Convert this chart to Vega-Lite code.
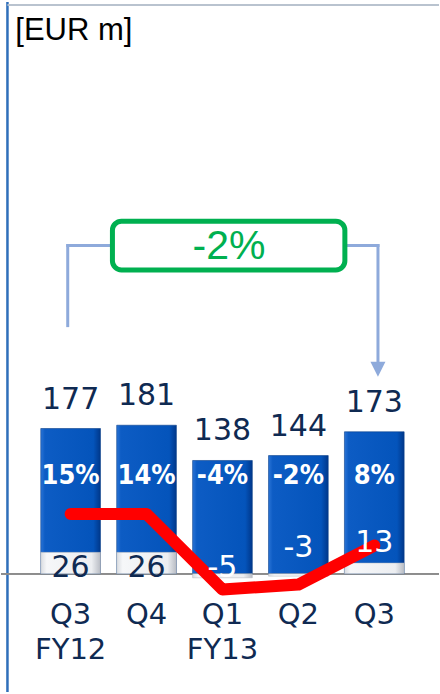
{
  "$schema": "https://vega.github.io/schema/vega-lite/v6.json",
  "width": 440,
  "height": 694,
  "autosize": {"type": "fit", "contains": "padding"},
  "padding": 0,
  "background": "#ffffff",
  "config": {"view": {"stroke": null}},
  "datasets": {
    "q": [
      {"period": "Q3 FY12", "revenue": 177, "ebit": 26, "margin": "15%"},
      {"period": "Q4", "revenue": 181, "ebit": 26, "margin": "14%"},
      {"period": "Q1 FY13", "revenue": 138, "ebit": -5, "margin": "-4%"},
      {"period": "Q2", "revenue": 144, "ebit": -3, "margin": "-2%"},
      {"period": "Q3", "revenue": 173, "ebit": 13, "margin": "8%"}
    ]
  },
  "resolve": {"scale": {"x": "independent", "y": "independent"}},
  "layer": [
    {
      "data": {"values": [{}]},
      "layer": [
        {
          "mark": {"type": "rule", "color": "#2f6fba", "strokeWidth": 2.5},
          "encoding": {
            "x": {"datum": -0.833, "type": "quantitative", "scale": {"domain": [-0.918, 4.852], "nice": false, "zero": false}, "axis": null},
            "y": {"datum": 697, "type": "quantitative", "scale": {"domain": [-144.24, 696.97], "nice": false, "zero": false}, "axis": null},
            "y2": {"datum": -144.24}
          }
        },
        {
          "mark": {"type": "rule", "color": "#b9c3cf", "strokeWidth": 2},
          "encoding": {"x": {"datum": -0.833}, "x2": {"datum": 4.852}, "y": {"datum": 693.3}}
        },
        {
          "mark": {"type": "rule", "color": "#8eaadb", "strokeWidth": 3},
          "encoding": {"x": {"datum": -0.039}, "y": {"datum": 300.6}, "y2": {"datum": 401.8}}
        },
        {
          "mark": {"type": "rule", "color": "#8eaadb", "strokeWidth": 3},
          "encoding": {"x": {"datum": -0.058}, "x2": {"datum": 0.56}, "y": {"datum": 400}}
        },
        {
          "mark": {"type": "rule", "color": "#8eaadb", "strokeWidth": 3},
          "encoding": {"x": {"datum": 3.6}, "x2": {"datum": 4.068}, "y": {"datum": 400}}
        },
        {
          "mark": {"type": "rule", "color": "#8eaadb", "strokeWidth": 3},
          "encoding": {"x": {"datum": 4.048}, "y": {"datum": 401.8}, "y2": {"datum": 254}}
        },
        {
          "mark": {"type": "point", "shape": "M-1,-1L1,-1L0,1Z", "filled": true, "color": "#8eaadb", "opacity": 1, "size": 225},
          "encoding": {"x": {"datum": 4.048}, "y": {"datum": 249.1}}
        },
        {
          "mark": {"type": "rect", "fill": "#ffffff", "stroke": "#00b050", "strokeWidth": 5, "cornerRadius": 9},
          "encoding": {"x": {"datum": 0.55}, "x2": {"datum": 3.612}, "y": {"datum": 429.7}, "y2": {"datum": 370.3}}
        },
        {
          "mark": {"type": "text", "text": "-2%", "font": "Liberation Sans", "fontSize": 41, "color": "#00b050", "align": "center", "baseline": "middle"},
          "encoding": {"x": {"datum": 2.085}, "y": {"datum": 398.8}}
        },
        {
          "mark": {"type": "text", "text": "[EUR m]", "font": "Liberation Sans", "fontSize": 31, "color": "#000000", "align": "left", "baseline": "middle"},
          "encoding": {"x": {"datum": -0.73}, "y": {"datum": 662}}
        }
      ]
    },
    {
      "data": {"name": "q"},
      "layer": [
        {
          "mark": {"type": "rule", "color": "#8c8c8c", "strokeWidth": 1.5},
          "encoding": {
            "y": {"datum": 0, "type": "quantitative", "scale": {"domain": [-144.24, 696.97], "nice": false, "zero": false}, "axis": null}
          }
        },
        {
          "mark": {
            "type": "bar",
            "stroke": "#0a3f8a",
            "strokeWidth": 0.6,
            "color": {"gradient": "linear", "x1": 0, "x2": 1, "y1": 0, "y2": 0, "stops": [
              {"offset": 0, "color": "#2a74d6"},
              {"offset": 0.07, "color": "#0d5cc4"},
              {"offset": 0.88, "color": "#0454bb"},
              {"offset": 1, "color": "#00378a"}
            ]}
          },
          "encoding": {
            "x": {"field": "period", "type": "nominal", "scale": {"type": "band", "domain": ["Q3 FY12", "Q4", "Q1 FY13", "Q2", "Q3"], "paddingInner": 0.2136, "paddingOuter": 0.4915, "align": 0.533}, "axis": null},
            "y": {"field": "revenue", "type": "quantitative"},
            "y2": {"datum": 0}
          }
        },
        {
          "mark": {
            "type": "bar",
            "stroke": "#b0b4bb",
            "strokeWidth": 0.5,
            "color": {"gradient": "linear", "x1": 0, "x2": 1, "y1": 0, "y2": 0, "stops": [
              {"offset": 0, "color": "#d9dce1"},
              {"offset": 0.1, "color": "#f6f7f9"},
              {"offset": 0.85, "color": "#eceef1"},
              {"offset": 1, "color": "#b8bcc4"}
            ]}
          },
          "encoding": {
            "x": {"field": "period", "type": "nominal"},
            "y": {"field": "ebit", "type": "quantitative"},
            "y2": {"datum": 0}
          }
        }
      ]
    },
    {
      "data": {"name": "q"},
      "mark": {"type": "line", "color": "#ff0000", "strokeWidth": 12, "strokeCap": "round", "strokeJoin": "round"},
      "encoding": {
        "x": {"field": "period", "type": "nominal", "scale": {"type": "band", "domain": ["Q3 FY12", "Q4", "Q1 FY13", "Q2", "Q3"], "paddingInner": 0.2136, "paddingOuter": 0.4915, "align": 0.533}, "axis": null},
        "y": {"field": "ebit", "type": "quantitative", "scale": {"domain": [-47.1, 236.1], "nice": false, "zero": false}, "axis": null}
      }
    },
    {
      "data": {"name": "q"},
      "layer": [
        {
          "mark": {"type": "text", "font": "DejaVu Sans", "fontSize": 30, "color": "#0f2a52", "baseline": "middle", "dy": -29},
          "encoding": {
            "x": {"field": "period", "type": "nominal", "scale": {"type": "band", "domain": ["Q3 FY12", "Q4", "Q1 FY13", "Q2", "Q3"], "paddingInner": 0.2136, "paddingOuter": 0.4915, "align": 0.533}, "axis": null},
            "y": {"field": "revenue", "type": "quantitative", "scale": {"domain": [-144.24, 696.97], "nice": false, "zero": false}, "axis": null},
            "text": {"field": "revenue"}
          }
        },
        {
          "mark": {"type": "text", "font": "DejaVu Sans Condensed, DejaVu Sans", "fontWeight": "bold", "fontSize": 27, "color": "#ffffff", "baseline": "middle"},
          "encoding": {
            "x": {"field": "period", "type": "nominal"},
            "y": {"datum": 118.8},
            "text": {"field": "margin"}
          }
        },
        {
          "transform": [{"filter": {"field": "period", "oneOf": ["Q3 FY12", "Q4", "Q1 FY13"]}}],
          "mark": {"type": "text", "font": "DejaVu Sans", "fontSize": 30, "baseline": "middle"},
          "encoding": {
            "x": {"field": "period", "type": "nominal"},
            "y": {"datum": 7},
            "text": {"field": "ebit"},
            "color": {"condition": {"test": "datum.ebit > 20", "value": "#0f2a52"}, "value": "#ffffff"}
          }
        },
        {
          "transform": [{"filter": {"field": "period", "equal": "Q2"}}],
          "mark": {"type": "text", "font": "DejaVu Sans", "fontSize": 30, "baseline": "middle", "color": "#ffffff"},
          "encoding": {
            "x": {"field": "period", "type": "nominal"},
            "y": {"datum": 31},
            "text": {"field": "ebit"}
          }
        },
        {
          "transform": [{"filter": {"field": "period", "equal": "Q3"}}],
          "mark": {"type": "text", "font": "DejaVu Sans", "fontSize": 30, "baseline": "middle", "color": "#ffffff"},
          "encoding": {
            "x": {"field": "period", "type": "nominal"},
            "y": {"datum": 37},
            "text": {"field": "ebit"}
          }
        },
        {
          "mark": {"type": "text", "font": "DejaVu Sans", "fontSize": 29, "baseline": "top", "lineBreak": " ", "lineHeight": 35, "color": "#0f2a52"},
          "encoding": {
            "x": {"field": "period", "type": "nominal"},
            "y": {"datum": -33},
            "text": {"field": "period"}
          }
        }
      ]
    }
  ]
}
